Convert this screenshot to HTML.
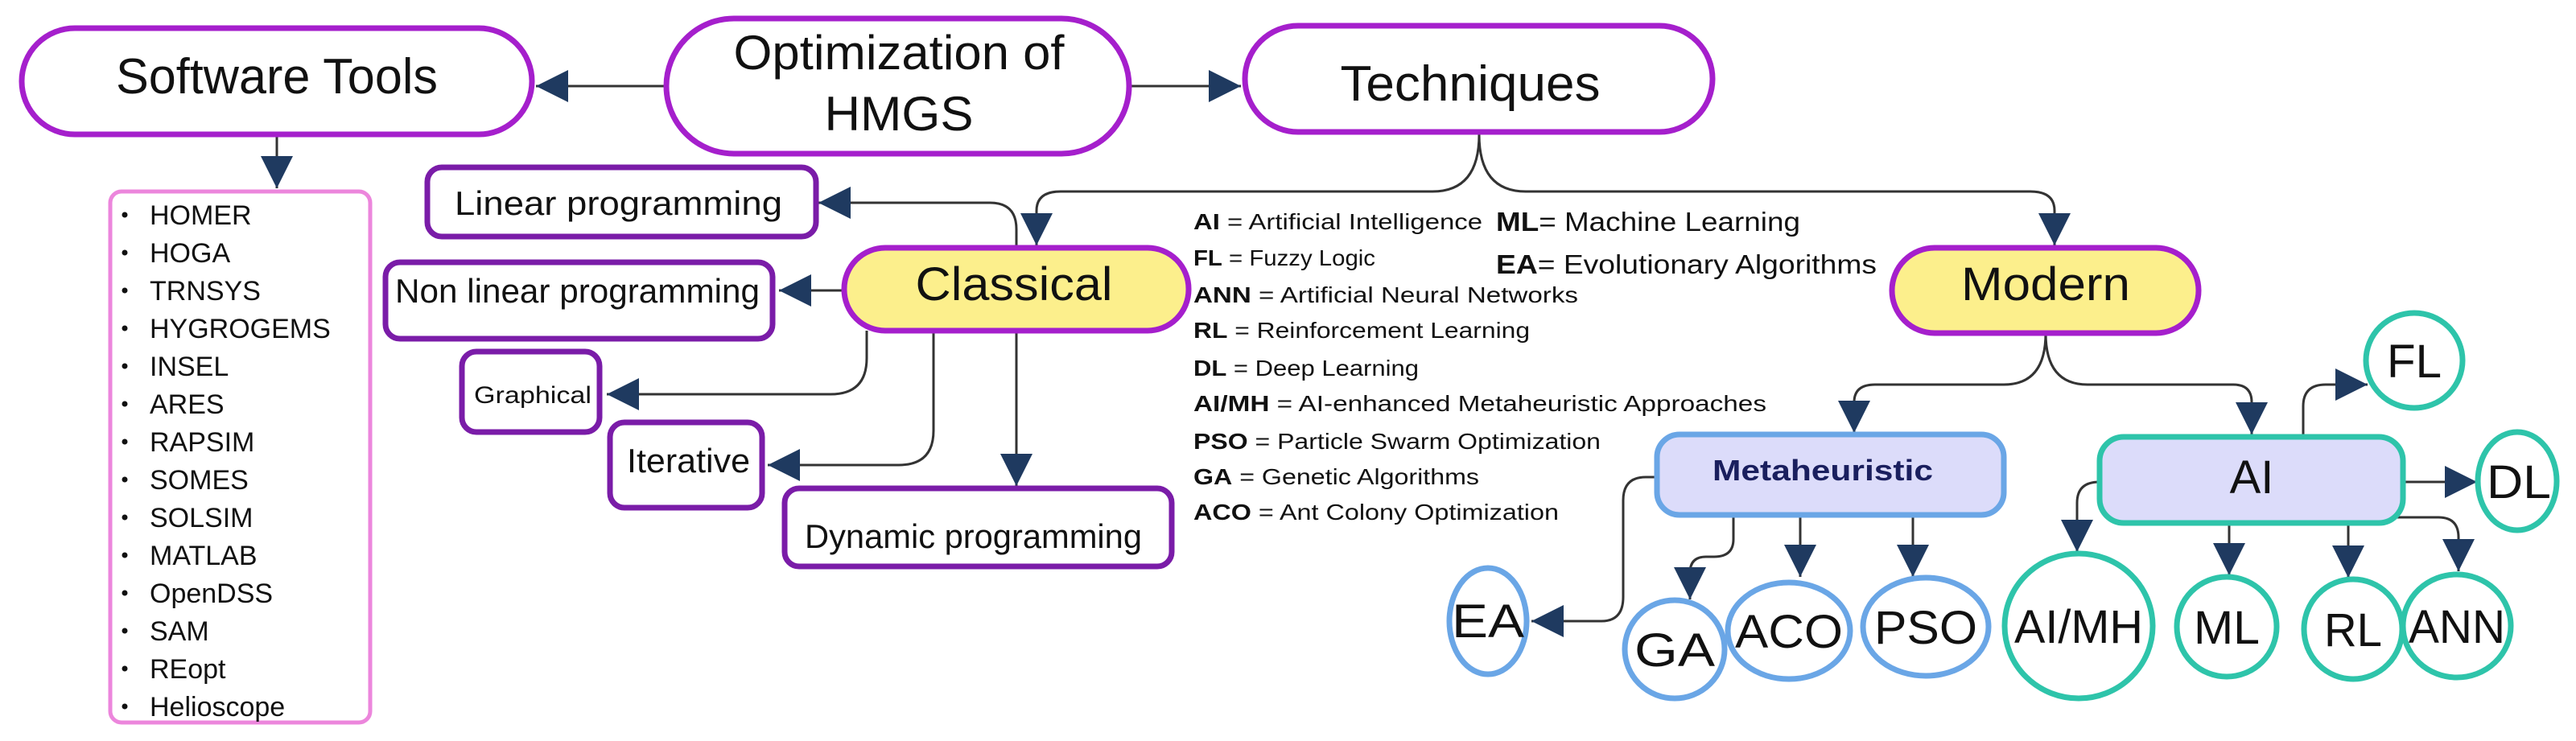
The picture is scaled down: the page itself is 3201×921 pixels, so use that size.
<!DOCTYPE html>
<html><head><meta charset="utf-8"><style>
html,body{margin:0;padding:0;background:#fff;}
svg{display:block;}
text{font-family:"Liberation Sans",sans-serif;fill:#111;}
</style></head><body>
<svg width="3201" height="921" viewBox="0 0 3201 921" xmlns="http://www.w3.org/2000/svg">
<defs>
<marker id="ah" viewBox="0 0 10 10" refX="10" refY="5" markerWidth="40" markerHeight="44" markerUnits="userSpaceOnUse" orient="auto">
<path d="M0,0 L10,5 L0,10 Z" fill="#1f3a60"/>
</marker>
</defs>
<rect width="3201" height="921" fill="#fff"/>

<g fill="none" stroke="#333" stroke-width="3">
<!-- top -->
<path d="M828 107 L666 107" marker-end="url(#ah)"/>
<path d="M1403 107 L1542 107" marker-end="url(#ah)"/>
<path d="M344 167 L344 234" marker-end="url(#ah)"/>
<!-- techniques branches -->
<path d="M1838 167 Q1838 238 1780 238 L1318 238 Q1288 238 1288 262 L1288 305" marker-end="url(#ah)"/>
<path d="M1838 167 Q1838 238 1896 238 L2523 238 Q2553 238 2553 262 L2553 305" marker-end="url(#ah)"/>
<!-- classical -->
<path d="M1263 308 L1263 285 Q1263 252 1230 252 L1017 252" marker-end="url(#ah)"/>
<path d="M1049 361 L968 361" marker-end="url(#ah)"/>
<path d="M1077 411 L1077 445 Q1077 490 1032 490 L754 490" marker-end="url(#ah)"/>
<path d="M1160 411 L1160 535 Q1160 578 1117 578 L954 578" marker-end="url(#ah)"/>
<path d="M1263 411 L1263 604" marker-end="url(#ah)"/>
<!-- modern -->
<path d="M2542 414 Q2542 478 2490 478 L2330 478 Q2304 478 2304 500 L2304 538" marker-end="url(#ah)"/>
<path d="M2542 414 Q2542 478 2594 478 L2775 478 Q2798 478 2798 500 L2798 540" marker-end="url(#ah)"/>
<!-- metaheuristic -->
<path d="M2059 593 L2045 593 Q2017 593 2017 622 L2017 742 Q2017 772 1990 772 L1903 772" marker-end="url(#ah)"/>
<path d="M2154 642 L2154 670 Q2154 692 2130 692 L2120 692 Q2100 692 2100 712 L2100 745" marker-end="url(#ah)"/>
<path d="M2237 642 L2237 717" marker-end="url(#ah)"/>
<path d="M2377 642 L2377 717" marker-end="url(#ah)"/>
<!-- AI -->
<path d="M2862 543 L2862 505 Q2862 478 2890 478 L2942 478" marker-end="url(#ah)"/>
<path d="M2986 599 L3078 599" marker-end="url(#ah)"/>
<path d="M2609 599 Q2581 599 2581 625 L2581 686" marker-end="url(#ah)"/>
<path d="M2770 650 L2770 715" marker-end="url(#ah)"/>
<path d="M2918 650 L2918 718" marker-end="url(#ah)"/>
<path d="M2975 643 L3030 643 Q3055 643 3055 668 L3055 710" marker-end="url(#ah)"/>
</g>

<!-- main purple boxes -->
<g stroke="#a51fcc" stroke-width="7" fill="#fff">
<rect x="27" y="35" width="634" height="132" rx="66"/>
<rect x="828" y="23" width="575" height="168" rx="84"/>
<rect x="1547" y="32" width="581" height="132" rx="66"/>
<rect x="1049" y="308" width="428" height="103" rx="51" fill="#fcef8c"/>
<rect x="2351" y="308" width="381" height="106" rx="53" fill="#fcef8c"/>
</g>
<text x="344" y="116" font-size="62" textLength="400" lengthAdjust="spacingAndGlyphs" text-anchor="middle">Software Tools</text>
<text x="1117" y="86" font-size="60" textLength="411" lengthAdjust="spacingAndGlyphs" text-anchor="middle">Optimization of</text>
<text x="1117" y="162" font-size="60" text-anchor="middle" textLength="185" lengthAdjust="spacingAndGlyphs">HMGS</text>
<text x="1827" y="125" font-size="62" text-anchor="middle" textLength="323" lengthAdjust="spacingAndGlyphs">Techniques</text>
<text x="1260" y="373" font-size="58" text-anchor="middle" textLength="245" lengthAdjust="spacingAndGlyphs">Classical</text>
<text x="2542" y="373" font-size="58" text-anchor="middle" textLength="210" lengthAdjust="spacingAndGlyphs">Modern</text>

<!-- list box -->
<rect x="137" y="238" width="323" height="660" rx="14" fill="#fff" stroke="#ec86dc" stroke-width="5"/>
<g font-size="34">
<text x="186" y="279">HOMER</text>
<text x="186" y="326">HOGA</text>
<text x="186" y="373">TRNSYS</text>
<text x="186" y="420">HYGROGEMS</text>
<text x="186" y="467">INSEL</text>
<text x="186" y="514">ARES</text>
<text x="186" y="561">RAPSIM</text>
<text x="186" y="608">SOMES</text>
<text x="186" y="655">SOLSIM</text>
<text x="186" y="702">MATLAB</text>
<text x="186" y="749">OpenDSS</text>
<text x="186" y="796">SAM</text>
<text x="186" y="843">REopt</text>
<text x="186" y="890">Helioscope</text>
</g>
<g fill="#111">
<circle cx="155" cy="267" r="3.5"/><circle cx="155" cy="314" r="3.5"/><circle cx="155" cy="361" r="3.5"/><circle cx="155" cy="408" r="3.5"/><circle cx="155" cy="455" r="3.5"/><circle cx="155" cy="502" r="3.5"/><circle cx="155" cy="549" r="3.5"/><circle cx="155" cy="596" r="3.5"/><circle cx="155" cy="643" r="3.5"/><circle cx="155" cy="690" r="3.5"/><circle cx="155" cy="737" r="3.5"/><circle cx="155" cy="784" r="3.5"/><circle cx="155" cy="831" r="3.5"/><circle cx="155" cy="878" r="3.5"/>
</g>

<!-- classical subboxes -->
<g stroke="#7a1ca8" stroke-width="7" fill="#fff">
<rect x="531" y="208" width="483" height="86" rx="18"/>
<rect x="479" y="326" width="481" height="95" rx="18"/>
<rect x="574" y="437" width="171" height="100" rx="18"/>
<rect x="758" y="525" width="189" height="106" rx="18"/>
<rect x="975" y="607" width="481" height="97" rx="18"/>
</g>
<text x="565" y="267" font-size="42" textLength="407" lengthAdjust="spacingAndGlyphs">Linear programming</text>
<text x="491" y="376" font-size="42" textLength="453" lengthAdjust="spacingAndGlyphs">Non linear programming</text>
<text x="589" y="501" font-size="30" textLength="146" lengthAdjust="spacingAndGlyphs">Graphical</text>
<text x="779" y="587" font-size="42" textLength="153" lengthAdjust="spacingAndGlyphs">Iterative</text>
<text x="1000" y="681" font-size="42" textLength="419" lengthAdjust="spacingAndGlyphs">Dynamic programming</text>

<!-- legend -->
<g font-size="28" style="fill:#333">
<text x="1483" y="285" textLength="359" lengthAdjust="spacingAndGlyphs"><tspan font-weight="bold" fill="#111">AI</tspan> = Artificial Intelligence</text>
<text x="1483" y="330" textLength="226" lengthAdjust="spacingAndGlyphs"><tspan font-weight="bold" fill="#111">FL</tspan> = Fuzzy Logic</text>
<text x="1483" y="376" textLength="478" lengthAdjust="spacingAndGlyphs"><tspan font-weight="bold" fill="#111">ANN</tspan> = Artificial Neural Networks</text>
<text x="1483" y="420" textLength="418" lengthAdjust="spacingAndGlyphs"><tspan font-weight="bold" fill="#111">RL</tspan> = Reinforcement Learning</text>
<text x="1483" y="467" textLength="280" lengthAdjust="spacingAndGlyphs"><tspan font-weight="bold" fill="#111">DL</tspan> = Deep Learning</text>
<text x="1483" y="511" textLength="712" lengthAdjust="spacingAndGlyphs"><tspan font-weight="bold" fill="#111">AI/MH</tspan> = AI-enhanced Metaheuristic Approaches</text>
<text x="1483" y="558" textLength="506" lengthAdjust="spacingAndGlyphs"><tspan font-weight="bold" fill="#111">PSO</tspan> = Particle Swarm Optimization</text>
<text x="1483" y="602" textLength="355" lengthAdjust="spacingAndGlyphs"><tspan font-weight="bold" fill="#111">GA</tspan> = Genetic Algorithms</text>
<text x="1483" y="646" textLength="454" lengthAdjust="spacingAndGlyphs"><tspan font-weight="bold" fill="#111">ACO</tspan> = Ant Colony Optimization</text>
</g>
<g font-size="33" style="fill:#333">
<text x="1859" y="287" textLength="378" lengthAdjust="spacingAndGlyphs"><tspan font-weight="bold" fill="#111">ML</tspan>= Machine Learning</text>
<text x="1859" y="340" textLength="473" lengthAdjust="spacingAndGlyphs"><tspan font-weight="bold" fill="#111">EA</tspan>= Evolutionary Algorithms</text>
</g>

<!-- metaheuristic & AI boxes -->
<rect x="2059" y="540" width="431" height="100" rx="28" fill="#dcdcfa" stroke="#6aa6e6" stroke-width="7"/>
<text x="2265" y="597" font-size="36" font-weight="bold" style="fill:#1a1f5e" text-anchor="middle" textLength="274" lengthAdjust="spacingAndGlyphs">Metaheuristic</text>
<rect x="2609" y="543" width="377" height="107" rx="30" fill="#dcdcfa" stroke="#2ec4aa" stroke-width="7"/>
<text x="2798" y="613" font-size="58" text-anchor="middle">AI</text>

<!-- blue circles -->
<g fill="#fff" stroke="#6aa6e6" stroke-width="7">
<ellipse cx="1849" cy="772" rx="48" ry="66"/>
<ellipse cx="2081" cy="807" rx="62" ry="61"/>
<ellipse cx="2223" cy="784" rx="76" ry="60"/>
<ellipse cx="2393" cy="779" rx="78" ry="61"/>
</g>
<g fill="#fff" stroke="#2ec4aa" stroke-width="7">
<ellipse cx="3000" cy="448" rx="60" ry="59"/>
<ellipse cx="3128" cy="598" rx="49" ry="61"/>
<ellipse cx="2583" cy="778" rx="92" ry="90"/>
<ellipse cx="2767" cy="779" rx="62" ry="62"/>
<ellipse cx="2924" cy="782" rx="61" ry="62"/>
<ellipse cx="3053" cy="778" rx="67" ry="64"/>
</g>
<g font-size="58" text-anchor="middle">
<text x="1849" y="792" textLength="90" lengthAdjust="spacingAndGlyphs">EA</text>
<text x="2081" y="828" textLength="100" lengthAdjust="spacingAndGlyphs">GA</text>
<text x="2223" y="805" textLength="134" lengthAdjust="spacingAndGlyphs">ACO</text>
<text x="2393" y="800" textLength="128" lengthAdjust="spacingAndGlyphs">PSO</text>
<text x="3000" y="469" textLength="68" lengthAdjust="spacingAndGlyphs">FL</text>
<text x="3130" y="619" textLength="80" lengthAdjust="spacingAndGlyphs">DL</text>
<text x="2583" y="799" textLength="160" lengthAdjust="spacingAndGlyphs">AI/MH</text>
<text x="2767" y="800" textLength="82" lengthAdjust="spacingAndGlyphs">ML</text>
<text x="2924" y="803" textLength="72" lengthAdjust="spacingAndGlyphs">RL</text>
<text x="3053" y="799" textLength="120" lengthAdjust="spacingAndGlyphs">ANN</text>
</g>
</svg>
</body></html>
